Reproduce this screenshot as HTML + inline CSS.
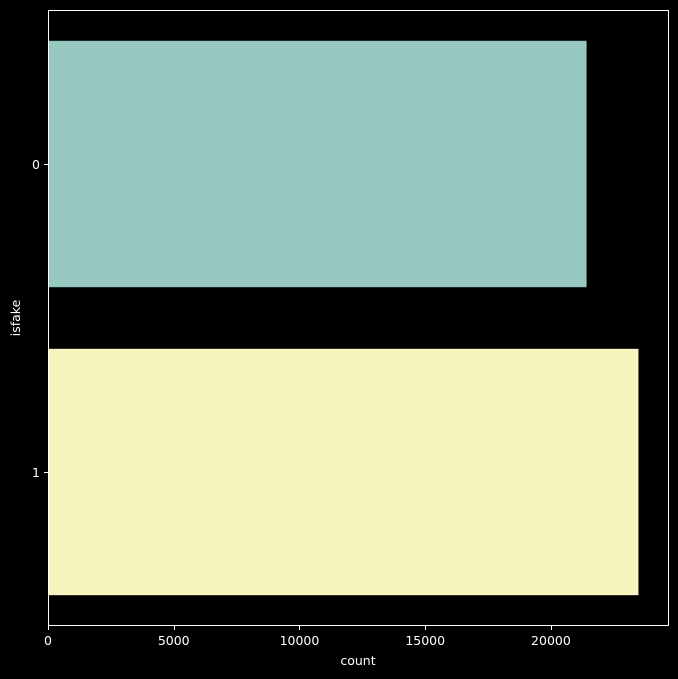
<!DOCTYPE html>
<html><head><meta charset="utf-8"><style>
body{margin:0;background:#000;}
svg{display:block;font-family:"DejaVu Sans","Liberation Sans",sans-serif;}
</style></head><body>
<svg id="chart" width="678" height="679"></svg>
<script>
const categories=["0","1"];
const counts=[21417,23481];
const xTicks=[0,5000,10000,15000,20000];
const colors=["#96c8c0","#f5f5be"];
const svg=document.getElementById('chart');
const NS="http://www.w3.org/2000/svg";
const L=48,R=668,T=10,B=626,xMax=24655;
const x=v=>L+v/xMax*(R-L);
const band=(B-T)/categories.length;
const bw=band*0.8;
function mk(t,a,p){const e=document.createElementNS(NS,t);for(const k in a)e.setAttribute(k,a[k]);(p||svg).appendChild(e);return e;}
const bg=mk('rect',{x:0,y:0,width:678,height:679,fill:'#000'});


categories.forEach((c,i)=>{
  const y0=T+band*i+(band-bw)/2;
  const r=mk('rect',{x:L,y:y0,width:x(counts[i])-L,height:bw,fill:colors[i]});
  
  
  const cy=Math.round(T+band*(i+0.5))+0.5;
  const tk=mk('line',{x1:L-4,x2:L,y1:cy,y2:cy,stroke:'#fff','stroke-width':1,'shape-rendering':'crispEdges'});
  
  
  const tl=mk('text',{x:L-8,y:cy+4.5,fill:'#fff','font-size':12.5,'text-anchor':'end'});
  tl.textContent=c;
  
  
});
xTicks.forEach(v=>{
  const xx=Math.round(x(v))+0.5;
  const tk=mk('line',{x1:xx,x2:xx,y1:B,y2:B+4,stroke:'#fff','stroke-width':1,'shape-rendering':'crispEdges'});
  
  
  const tl=mk('text',{x:x(v),y:B+19,fill:'#fff','font-size':12.5,'text-anchor':'middle'});
  tl.textContent=v;
  
  
});
const frame=mk('rect',{x:L+0.5,y:T+0.5,width:R-L,height:B-T-1,fill:'none',stroke:'#fff','stroke-width':1,'shape-rendering':'crispEdges'});


const xt=mk('text',{x:(L+R)/2,y:665,fill:'#fff','font-size':12.5,'text-anchor':'middle'});
xt.textContent='count';


const yt=mk('text',{x:20,y:(T+B)/2,fill:'#fff','font-size':12.5,'text-anchor':'middle',transform:`rotate(-90 20 ${(T+B)/2})`});
yt.textContent='isfake';


</script>
</body></html>
